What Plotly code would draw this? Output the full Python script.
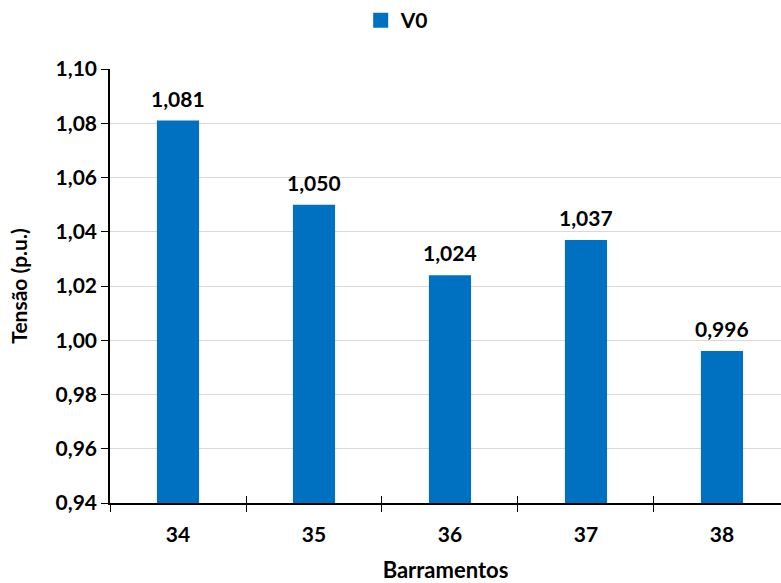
import plotly.graph_objects as go

# Bus voltages (p.u.)
buses = ["34", "35", "36", "37", "38"]
v0 = [1.081, 1.050, 1.024, 1.037, 0.996]

positions = list(range(len(buses)))
boundaries = [p - 0.5 for p in positions] + [positions[-1] + 0.5]

FONT = "Lato"
BLUE = "#0070C0"
FS = 21

fig = go.Figure()
fig.add_trace(go.Bar(
    x=positions, y=v0, name="V0",
    marker=dict(color=BLUE, line=dict(width=0)),
    width=0.31, showlegend=False,
))
# legend entry with a larger square swatch
fig.add_trace(go.Scatter(
    x=[None], y=[None], name="V0", mode="markers",
    marker=dict(symbol="square", size=15, color=BLUE),
))
# invisible trace on a second x axis carrying inward boundary ticks
fig.add_trace(go.Scatter(x=[positions[0]], y=[v0[0]], xaxis="x2",
                         mode="markers", marker=dict(opacity=0),
                         showlegend=False, hoverinfo="skip"))

# value labels above each bar
for p, v in zip(positions, v0):
    fig.add_annotation(
        x=p, y=v, xref="x", yref="y", text=f"{v:.3f}".replace(".", ","),
        showarrow=False, yanchor="bottom", yshift=8,
        font=dict(family=FONT, size=FS, color="black", weight="bold"),
    )

xrange = [-0.5, 4.434]
fig.update_layout(
    width=781, height=583,
    margin=dict(l=110, r=0, t=69, b=80),
    paper_bgcolor="white", plot_bgcolor="white",
    separators=",.",
    font=dict(family=FONT, size=FS, color="black"),
    showlegend=True,
    legend=dict(orientation="h", x=0.428, xanchor="center", y=1.113, yanchor="middle",
                font=dict(family=FONT, size=FS, color="black", weight="bold"),
                itemwidth=30, tracegroupgap=0),
    xaxis=dict(
        range=xrange, tickmode="array", tickvals=positions, ticktext=buses,
        ticks="", showgrid=False, zeroline=False,
        showline=True, linecolor="black", linewidth=1.5,
        tickfont=dict(family=FONT, size=FS, color="black", weight="bold"),
        ticklabelstandoff=12,
        minor=dict(tickmode="array", tickvals=boundaries, ticks="outside",
                   ticklen=7, tickwidth=1.2, tickcolor="black", showgrid=False),
        title=dict(text="Barramentos", standoff=20,
                   font=dict(family=FONT, size=22, color="black", weight="bold")),
    ),
    xaxis2=dict(
        overlaying="x", matches="x", range=xrange, side="bottom",
        anchor="y", tickmode="array", tickvals=boundaries,
        ticks="inside", ticklen=7, tickwidth=1.2, tickcolor="black",
        showticklabels=False, showgrid=False, zeroline=False, showline=False,
    ),
    yaxis=dict(
        range=[0.94, 1.10], tickmode="array",
        tickvals=[0.94, 0.96, 0.98, 1.00, 1.02, 1.04, 1.06, 1.08, 1.10],
        tickformat=".2f", ticks="outside", ticklen=7, tickwidth=1.2, tickcolor="black",
        showline=True, linecolor="black", linewidth=1.5,
        showgrid=True, gridcolor="#D9D9D9", gridwidth=1.2, zeroline=False,
        tickfont=dict(family=FONT, size=FS, color="black", weight="bold"),
        title=dict(text="Tensão (p.u.)", standoff=22,
                   font=dict(family=FONT, size=FS, color="black", weight="bold")),
    ),
)

fig.write_html("out.html")
